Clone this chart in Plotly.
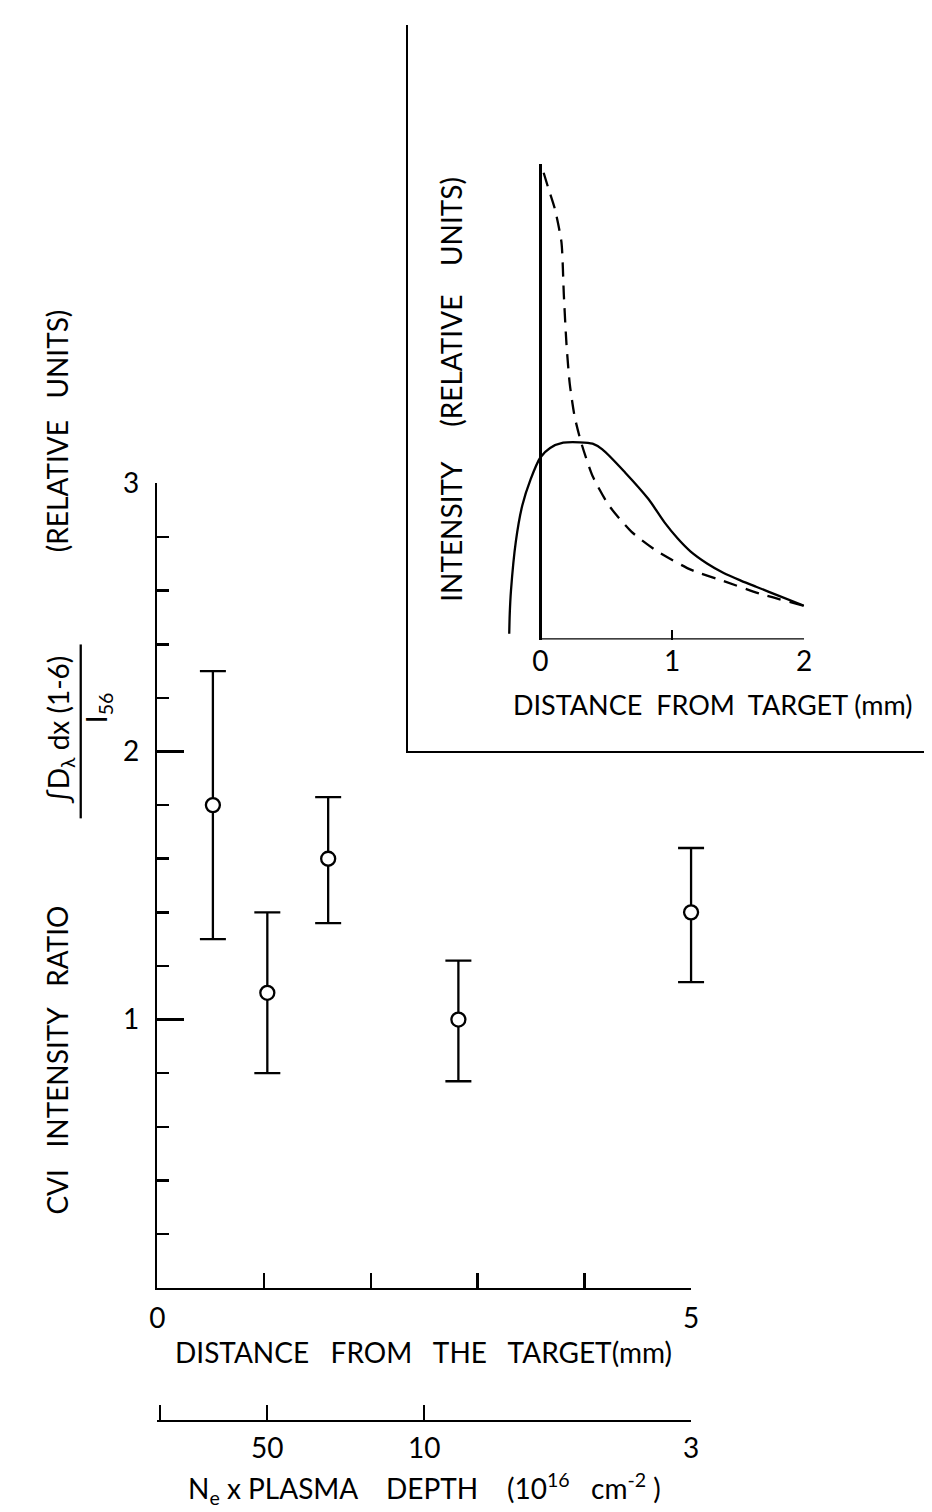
import plotly.graph_objects as go

W, H = 932, 1512

# ---------------- data ----------------
# main plot: CVI intensity ratio vs distance from target
distance_mm = [0.52, 1.03, 1.6, 2.82, 5.0]
ratio = [1.8, 1.1, 1.6, 1.0, 1.4]
err_plus = [0.5, 0.3, 0.23, 0.22, 0.24]
err_minus = [0.5, 0.3, 0.24, 0.23, 0.26]

# main axis ticks
x_tick_vals = [0, 1, 2, 3, 4, 5]
x_tick_text = ["0", "", "", "", "", "5"]
y_tick_vals = [1, 2, 3]
y_tick_text = ["1", "2", "3"]

# secondary scale: Ne x plasma depth (1e16 cm^-2) placed at distances (mm)
depth_tick_pos_mm = [0.02, 1.03, 2.5, 5.0]
depth_tick_text = ["", "50", "10", "3"]

# inset: intensity profiles (relative units)
inset_x_solid = [-0.236, -0.232, -0.223, -0.186, -0.137, -0.074, 0.0, 0.074, 0.173,
                 0.30, 0.396, 0.47, 0.644, 0.818, 0.94, 1.04, 1.14, 1.264, 1.39,
                 1.52, 1.636, 1.8, 2.0]
inset_i_solid = [0.12, 0.55, 1.02, 2.06, 2.82, 3.37, 3.83, 4.03, 4.14,
                 4.15, 4.12, 4.0, 3.51, 2.96, 2.47, 2.13, 1.85, 1.60, 1.40,
                 1.24, 1.11, 0.93, 0.71]
inset_x_dashed = [0.025, 0.06, 0.11, 0.16, 0.178, 0.198, 0.223, 0.26, 0.31,
                  0.396, 0.52, 0.69, 0.89, 1.14, 1.39, 1.68, 2.0]
inset_i_dashed = [9.82, 9.5, 9.06, 8.36, 7.26, 6.22, 5.38, 4.69, 4.14,
                  3.44, 2.82, 2.27, 1.85, 1.47, 1.23, 0.95, 0.71]
inset_tick_vals = [0, 1, 2]

# ---------------- helpers ----------------
def px(x):
    return x / W

def py(y):
    return 1 - y / H

FONT = "Lato"
INK = "black"
LW = 2.5
FS = 28

# main plot pixel frame
X0, X1 = 152, 695          # x = 0 .. 5
Y0, Y1 = 1285, 471         # y = 0 .. 3
PAD = 30                   # unclipped drawing pad for the data layer
ppu = (X1 - X0) / 5.0

fig = go.Figure()

# main data with error bars (hidden, slightly wider x-scale with the same
# pixel mapping, so the last error bar is not clipped)
fig.add_trace(go.Scatter(
    x=distance_mm, y=ratio, mode="markers", cliponaxis=False,
    marker=dict(symbol="circle", size=14, color="white",
                line=dict(color=INK, width=2.3)),
    error_y=dict(type="data", symmetric=False, array=err_plus,
                 arrayminus=err_minus, color=INK, thickness=2.3, width=13),
    xaxis="x5", yaxis="y", showlegend=False, hoverinfo="skip"))

# carrier trace for the visible main x axis
fig.add_trace(go.Scatter(x=[None], y=[None], mode="markers",
                         xaxis="x", yaxis="y", showlegend=False, hoverinfo="skip"))

# secondary axis carrier trace
fig.add_trace(go.Scatter(
    x=depth_tick_pos_mm, y=[None] * len(depth_tick_pos_mm), mode="markers",
    marker=dict(opacity=0), xaxis="x4", yaxis="y",
    showlegend=False, hoverinfo="skip"))

# frame carrier trace
fig.add_trace(go.Scatter(x=[None], y=[None], mode="markers",
                         xaxis="x3", yaxis="y3", showlegend=False, hoverinfo="skip"))

# inset curves
fig.add_trace(go.Scatter(
    x=inset_x_solid, y=inset_i_solid, mode="lines",
    line=dict(color=INK, width=2.3, shape="spline", smoothing=0.8),
    xaxis="x2", yaxis="y2", showlegend=False, hoverinfo="skip"))
fig.add_trace(go.Scatter(
    x=inset_x_dashed, y=inset_i_dashed, mode="lines",
    line=dict(color=INK, width=2.3, dash="14px,9px", shape="spline", smoothing=0.6),
    xaxis="x2", yaxis="y2", showlegend=False, hoverinfo="skip"))

tickfont = dict(family=FONT, size=FS, color=INK)

layout = dict(
    width=W, height=H,
    margin=dict(l=0, r=0, t=0, b=0),
    paper_bgcolor="white", plot_bgcolor="rgba(0,0,0,0)",
    showlegend=False,
    font=dict(family=FONT, color=INK),
    xaxis=dict(domain=[px(X0), px(X1)], range=[0, 5], anchor="y",
               showline=True, linecolor=INK, linewidth=LW,
               ticks="inside", ticklen=15, tickwidth=LW, tickcolor=INK,
               tickvals=x_tick_vals, ticktext=x_tick_text, tickfont=tickfont,
               showgrid=False, zeroline=False, ticklabelstandoff=4),
    xaxis5=dict(domain=[px(X0 - PAD), px(X1 + PAD)],
                range=[-PAD / ppu, 5 + PAD / ppu], anchor="y", visible=False,
                showgrid=False, zeroline=False),
    yaxis=dict(domain=[py(Y0), py(Y1)], range=[0, 3], anchor="x",
               showline=True, linecolor=INK, linewidth=LW,
               ticks="inside", ticklen=27, tickwidth=LW, tickcolor=INK,
               tickvals=y_tick_vals, ticktext=y_tick_text, tickfont=tickfont,
               minor=dict(ticks="inside", ticklen=12, tickwidth=LW,
                          tickcolor=INK, dtick=0.2, tick0=0, showgrid=False),
               showgrid=False, zeroline=False, ticklabelstandoff=10),
    xaxis4=dict(overlaying="x", anchor="free", position=py(1420), side="bottom",
                range=[0, 5], showline=True, linecolor=INK, linewidth=2,
                ticks="inside", ticklen=15, tickwidth=2, tickcolor=INK,
                tickvals=depth_tick_pos_mm, ticktext=depth_tick_text,
                tickfont=tickfont, showgrid=False, zeroline=False,
                ticklabelstandoff=2),
    xaxis3=dict(domain=[px(407), 1.0], range=[0, 1], anchor="y3",
                showline=True, linecolor=INK, linewidth=2.3, ticks="",
                showticklabels=False, showgrid=False, zeroline=False),
    yaxis3=dict(domain=[py(742), py(7)], range=[0, 1], anchor="x3",
                showline=True, linecolor=INK, linewidth=2.3, ticks="",
                showticklabels=False, showgrid=False, zeroline=False),
    xaxis2=dict(domain=[px(501.4), px(810)], range=[-0.3, 2.0], anchor="y2",
                showline=False, ticks="inside", ticklen=10, tickwidth=2,
                tickcolor=INK, tickvals=inset_tick_vals, tickfont=tickfont,
                showgrid=False, zeroline=True, zerolinecolor=INK,
                zerolinewidth=2.3, ticklabelstandoff=2),
    yaxis2=dict(domain=[py(629), py(148)], range=[0, 10], anchor="x2",
                showline=False, ticks="", showticklabels=False,
                showgrid=False, zeroline=False),
)
fig.update_layout(**layout)

# inset horizontal axis line (0..2 mm)
fig.add_shape(type="line", xref="x2", yref="y2", x0=0, x1=2, y0=0, y1=0,
              line=dict(color=INK, width=2.3))

# fraction bar of y-label
fig.add_shape(type="line", xref="paper", yref="paper",
              x0=px(74), x1=px(74), y0=py(634), y1=py(810),
              line=dict(color=INK, width=2.3))

lab = dict(family=FONT, size=FS, color=INK)
ann = [
    dict(x=px(423), y=py(1350), text="DISTANCE   FROM   THE   TARGET(mm)"),
    dict(x=px(424), y=py(1488),
         text="N<sub>e</sub> x PLASMA    DEPTH    (10<sup>16</sup>   cm<sup>-2</sup> )"),
    dict(x=px(50), y=py(1055), text="CVI   INTENSITY   RATIO", textangle=-90),
    dict(x=px(53), y=py(720), text="∫D<sub>λ</sub> dx (1-6)", textangle=-90),
    dict(x=px(91), y=py(698), text="I<sub>56</sub>", textangle=-90),
    dict(x=px(50), y=py(418), text="(RELATIVE   UNITS)", textangle=-90),
    dict(x=px(450), y=py(376), text="INTENSITY     (RELATIVE    UNITS)", textangle=-90),
    dict(x=px(717), y=py(695), text="DISTANCE  FROM  TARGET (mm)",
         font=dict(family=FONT, size=27, color=INK)),
]
for a in ann:
    a.setdefault("font", lab)
    a.update(xref="paper", yref="paper", showarrow=False,
             xanchor="center", yanchor="middle")
    fig.add_annotation(**a)

fig.write_html(
    "out.html",
    config={"displayModeBar": False, "staticPlot": True},
    post_script="document.body.style.margin='0px';"
                "document.body.style.padding='0px';"
                "document.body.style.overflow='hidden';",
)
